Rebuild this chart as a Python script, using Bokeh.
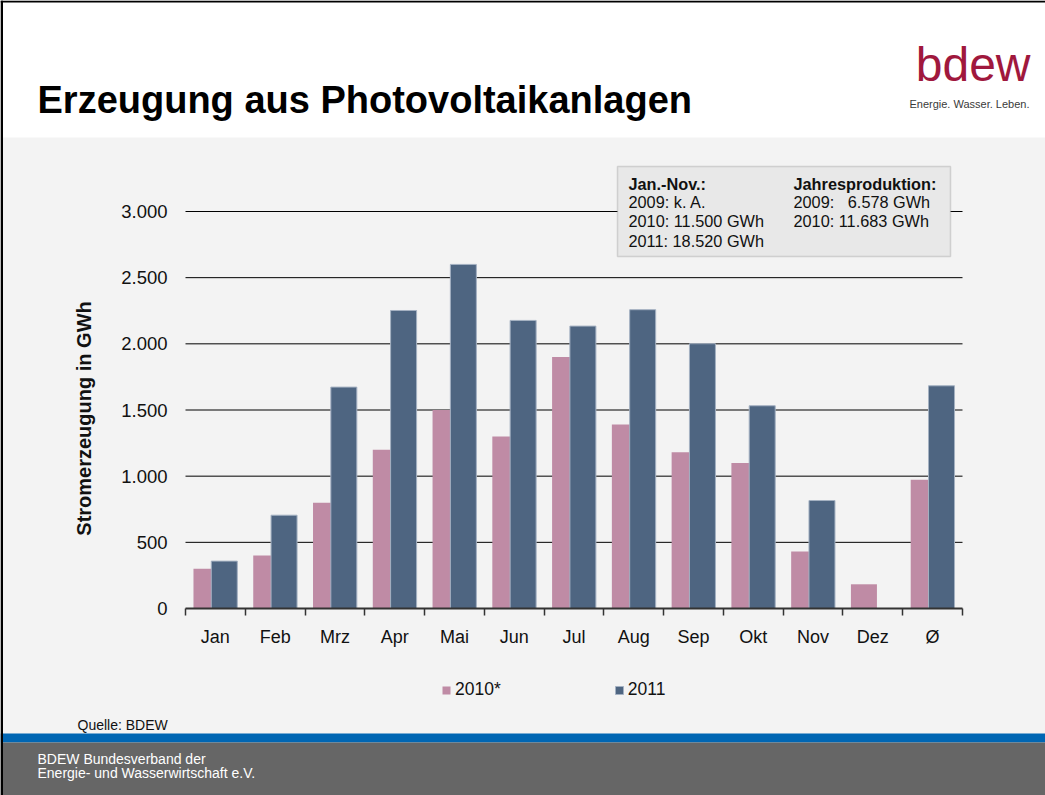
import numpy as np
from bokeh.plotting import figure
from bokeh.models import (Range1d, LinearAxis, FixedTicker, Legend, LegendItem,
                          Label, BoxAnnotation, ColumnDataSource)
from bokeh.transform import dodge
from bokeh.embed import file_html
from bokeh.resources import INLINE

# ---------------- data ----------------
months = ["Jan", "Feb", "Mrz", "Apr", "Mai", "Jun", "Jul", "Aug", "Sep", "Okt", "Nov", "Dez", "Ø"]
values_2010 = [300, 400, 800, 1200, 1500, 1300, 1900, 1390, 1180, 1100, 430, 183, 973]
values_2011 = [358, 705, 1673, 2252, 2600, 2177, 2134, 2258, 2001, 1532, 816, None, 1683]
series_names = ["2010*", "2011"]
y_ticks = [0, 500, 1000, 1500, 2000, 2500, 3000]
y_tick_labels = ["0", "500", "1.000", "1.500", "2.000", "2.500", "3.000"]
info_left = ["Jan.-Nov.:", "2009: k. A.", "2010: 11.500 GWh", "2011: 18.520 GWh"]
info_right = ["Jahresproduktion:", "2009:\u00a0\u00a0 6.578 GWh", "2010: 11.683 GWh"]

FONT = "Liberation Sans"
BG = "#F3F3F3"
PINK = "#BF8BA5"
BLUE = "#4E6581"
TEXT = "#111111"

# ---------------- page geometry (pixels) ----------------
W, H = 1045, 795
PLOT_L, PLOT_R = 185, 962      # left / right edge of the plot area
Y_ZERO, Y_TOP = 608, 211       # pixel rows of 0 and of the top tick (3000)
n = len(months)
ux = (PLOT_R - PLOT_L) / n
uy = (Y_ZERO - Y_TOP) / y_ticks[-1]
centres = [i + 0.5 for i in range(n)]

p = figure(width=W, height=H,
           x_range=Range1d(-PLOT_L / ux, n + (W - PLOT_R) / ux),
           y_range=Range1d(-(H - Y_ZERO) / uy, Y_ZERO / uy),
           output_backend="svg", toolbar_location=None, min_border=0,
           x_axis_location=None, y_axis_location=None,
           background_fill_color=BG, border_fill_color=BG, outline_line_color=None)
p.xgrid.visible = False
p.ygrid.visible = False
p.extra_x_ranges = {"px": Range1d(0, W)}
p.extra_y_ranges = {"px": Range1d(H, 0)}
PX = dict(x_range_name="px", y_range_name="px")

# header band, footer band
p.quad(left=[0], right=[W], top=[0], bottom=[137], fill_color="white", line_color=None, **PX)
p.quad(left=[0, 0], right=[W, W], top=[733, 742], bottom=[742, H],
       fill_color=["#0066B3", "#666666"], line_color=None, **PX)

# grid lines (plot area only)
p.segment(x0=0, x1=n, y0=y_ticks[1:], y1=y_ticks[1:], line_color="black", line_width=1)

# bars
src = ColumnDataSource(dict(pos=centres, cat=months,
                            v2010=np.array(values_2010, dtype=float),
                            v2011=np.array(values_2011, dtype=float)))
r1 = p.vbar(x=dodge("pos", -0.149), top="v2010", width=0.435, source=src,
            fill_color=PINK, line_color=None)
r2 = p.vbar(x=dodge("pos", 0.149), top="v2011", width=0.435, source=src,
            fill_color=BLUE, line_color="#A4B1C2", line_width=1)

# y axis
yaxis = LinearAxis(fixed_location=0, bounds=(-125, y_ticks[-1]),
                   ticker=FixedTicker(ticks=y_ticks),
                   major_label_overrides=dict(zip(y_ticks, y_tick_labels)),
                   axis_line_color=None, major_tick_line_color=None, minor_tick_line_color=None,
                   major_tick_in=0, major_tick_out=0, major_label_standoff=18,
                   major_label_text_font=FONT, major_label_text_font_size="18.5px",
                   major_label_text_color=TEXT,
                   axis_label="Stromerzeugung in GWh", axis_label_text_font=FONT,
                   axis_label_text_font_size="20px", axis_label_text_font_style="bold",
                   axis_label_text_color=TEXT, axis_label_standoff=23)
p.add_layout(yaxis, "left")

# x axis (labels at category centres, ticks at category boundaries)
xaxis = LinearAxis(fixed_location=0, bounds=(0, n),
                   ticker=FixedTicker(ticks=centres, minor_ticks=list(range(n + 1))),
                   major_label_overrides=dict(zip(centres, months)),
                   major_tick_line_color=None, major_tick_in=0, major_tick_out=0,
                   minor_tick_in=0, minor_tick_out=7, minor_tick_line_color="#333333",
                   minor_tick_line_width=1.5, axis_line_color="#333333", axis_line_width=2,
                   major_label_text_font=FONT, major_label_text_font_size="18px",
                   major_label_text_color=TEXT, major_label_standoff=11)
p.add_layout(xaxis, "below")

# header texts
p.add_layout(Label(x=37, y=99, text="Erzeugung aus Photovoltaikanlagen", text_font=FONT,
                   text_font_size="38px", text_font_style="bold", text_color="black",
                   text_baseline="middle", **PX))
p.add_layout(Label(x=1030, y=64, text="bdew", text_font=FONT, text_font_size="48px",
                   text_color="#A0183D", text_align="right", text_baseline="middle", **PX))
p.add_layout(Label(x=1029, y=103, text="Energie. Wasser. Leben.", text_font=FONT,
                   text_font_size="11px", text_color="#3A3A3A", text_align="right",
                   text_baseline="middle", **PX))

# info box
p.add_layout(BoxAnnotation(left=617, right=950, top=166, bottom=256,
                           fill_color="#E8E8E8", fill_alpha=1, line_color="#8C8C8C",
                           line_width=1.5, **PX))
line_y = [183, 201, 220, 240]
for i, t in enumerate(info_left):
    p.add_layout(Label(x=628, y=line_y[i], text=t, text_font=FONT,
                       text_font_size="16.3px", text_color=TEXT, text_baseline="middle",
                       text_font_style="bold" if i == 0 else "normal", **PX))
for i, t in enumerate(info_right):
    p.add_layout(Label(x=793, y=line_y[i], text=t, text_font=FONT,
                       text_font_size="16.3px", text_color=TEXT, text_baseline="middle",
                       text_font_style="bold" if i == 0 else "normal", **PX))

# legend
legend = Legend(items=[LegendItem(label=series_names[0], renderers=[r1]),
                       LegendItem(label=series_names[1], renderers=[r2])],
                location=(441, H - 700), orientation="horizontal",
                glyph_width=10, glyph_height=10, label_standoff=4, spacing=113,
                padding=0, margin=0, background_fill_alpha=0, border_line_color=None,
                label_text_font=FONT, label_text_font_size="17.5px", label_text_color=TEXT)
p.add_layout(legend, "center")

# source note and footer texts
p.add_layout(Label(x=77, y=724, text="Quelle: BDEW", text_font=FONT, text_font_size="14px",
                   text_color=TEXT, text_baseline="middle", **PX))
p.add_layout(Label(x=37, y=758, text="BDEW Bundesverband der", text_font=FONT,
                   text_font_size="14px", text_color="white", text_baseline="middle", **PX))
p.add_layout(Label(x=37, y=772.5, text="Energie- und Wasserwirtschaft e.V.", text_font=FONT,
                   text_font_size="14px", text_color="white", text_baseline="middle", **PX))

# slide frame lines (top and left)
p.quad(left=[0, 0], right=[W, 2.5], top=[0, 0], bottom=[2, H],
       fill_color="black", line_color=None, **PX)

open("out.html", "w").write(file_html(p, INLINE))
